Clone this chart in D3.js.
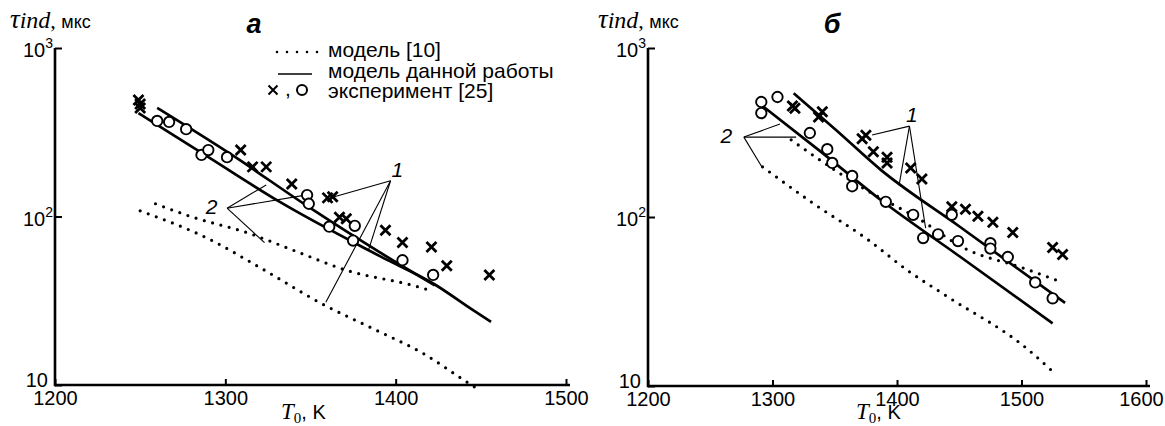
<!DOCTYPE html>
<html><head><meta charset="utf-8">
<script src="https://cdn.jsdelivr.net/npm/d3@7"></script>
<style>
body{margin:0;background:#fff}
svg{display:block;background:#fff}
text{font-family:"Liberation Sans",Arial,sans-serif;fill:#000}
</style></head><body>
<svg id="c" width="1165" height="426"></svg>
<script>
// ---------- tick values ----------
const xTicksA = [1200, 1300, 1400, 1500];
const xTicksB = [1200, 1300, 1400, 1500, 1600];
const yTicks = [10, 100, 1000];

// ---------- panel a data ----------
const aCrossT   = [1249, 1250, 1250, 1309, 1316, 1324, 1339, 1360, 1363, 1367, 1371, 1394, 1404, 1421, 1430, 1455];
const aCrossTau = [491, 465, 440, 248, 197, 197, 156, 129, 131, 99, 97, 83, 70, 66, 51, 45];
const aCircT    = [1260, 1267, 1277, 1286, 1290, 1301, 1348, 1349, 1361, 1376, 1375, 1404, 1422];
const aCircTau  = [369, 364, 330, 232, 248, 225, 134, 119, 87, 88, 72, 55, 45];
const aSolid1T   = [1260, 1303, 1350, 1391, 1423];
const aSolid1Tau = [441, 235, 112, 61, 39];
const aSolid2T   = [1249, 1291, 1332, 1391, 1423, 1445, 1456];
const aSolid2Tau = [411, 222, 122, 58, 39.5, 28, 23.7];
const aDot2T   = [1259, 1281, 1313, 1340, 1371, 1410, 1422];
const aDot2Tau = [119, 99, 80, 63, 48, 39, 36];
const aDot1T   = [1250, 1291, 1320, 1359, 1385, 1418, 1440, 1450];
const aDot1Tau = [108, 73, 50, 29.5, 22, 15, 10.7, 9.2];

// ---------- panel б data ----------
const bCrossT   = [1316, 1318, 1337, 1340, 1372, 1375, 1381, 1392, 1392, 1411, 1420, 1444, 1455, 1465, 1477, 1493, 1525, 1533];
const bCrossTau = [454, 440, 390, 420, 290, 305, 243, 226, 209, 195, 168, 115, 111, 101, 93, 81, 66, 60];
const bCircT    = [1291, 1304, 1291, 1330, 1344, 1348, 1364, 1364, 1391, 1413, 1421, 1433, 1444, 1449, 1475, 1475, 1489, 1511, 1525];
const bCircTau  = [479, 513, 412, 314, 252, 209, 175, 152, 123, 103, 75, 79, 103, 72, 70, 65, 58, 41, 33];
const bSolid1T   = [1317, 1351, 1387, 1451, 1535];
const bSolid1Tau = [540, 327, 190, 87, 31];
const bSolid2T   = [1292, 1339, 1387, 1451, 1525];
const bSolid2Tau = [454, 243, 126, 58, 23.5];
const bDot2T   = [1315, 1344, 1371, 1419, 1453, 1501, 1533];
const bDot2Tau = [286, 203, 151, 96, 66, 50, 41];
const bDot1T   = [1292, 1333, 1376, 1409, 1440, 1505, 1525];
const bDot1Tau = [198, 120, 74, 48, 34, 16.5, 12.2];

// ---------- annotation leaders (data units) ----------
const aNote2 = {label: "2", at: [1292, 114], from: [1301, 112], to: [[1324, 154], [1347, 134], [1323, 70]]};
const aNote1 = {label: "1", at: [1401, 189], from: [1397, 163], to: [[1364, 131], [1384, 63], [1359, 31]]};
const bNote2 = {label: "2", at: [1263, 301], from: [1277, 297], to: [[1306, 355], [1319, 297], [1292, 195]]};
const bNote1 = {label: "1", at: [1412, 402], from: [1410, 345], to: [[1380, 306], [1402, 159], [1423, 86]]};

const legendLabels = ["модель [10]", "модель данной работы", "эксперимент [25]"];

const svg = d3.select("#c");
const zip = (a, b) => a.map((v, i) => [v, b[i]]);
const SERIF = "Liberation Serif, Times New Roman, serif";

function drawPanel(p) {
  const g = svg.append("g");
  const x = d3.scaleLinear().domain(p.xDomain).range([p.left, p.right]);
  const y = d3.scaleLog().domain([10, 1000]).range([p.bottom, p.top]);

  // x axis
  const gx = g.append("g").attr("transform", `translate(0,${p.bottom})`)
    .call(d3.axisBottom(x).tickValues(p.xTicks).tickSizeInner(-6).tickSizeOuter(0).tickPadding(6).tickFormat(d3.format("d")));
  gx.attr("font-size", 20).attr("font-family", "Liberation Sans, Arial, sans-serif");
  gx.select(".domain").remove();
  gx.selectAll(".tick line").attr("stroke", "#000").attr("stroke-width", 2);
  gx.selectAll(".tick text").attr("fill", "#000")
    .attr("dx", d => (x(d) + 23 > 1164 ? 1164 - 23 - x(d) : 0));

  // y axis ticks
  const gy = g.append("g").attr("transform", `translate(${p.left},0)`)
    .call(d3.axisLeft(y).tickValues(yTicks).tickSizeInner(-7).tickSizeOuter(0).tickFormat(""));
  gy.select(".domain").remove();
  gy.selectAll(".tick line").attr("stroke", "#000").attr("stroke-width", 2);

  // axis lines
  g.append("line").attr("x1", p.left).attr("x2", p.right + 4).attr("y1", p.bottom).attr("y2", p.bottom)
    .attr("stroke", "#000").attr("stroke-width", 2.6);
  g.append("line").attr("x1", p.left).attr("x2", p.left).attr("y1", p.bottom + 1.3).attr("y2", y(1000))
    .attr("stroke", "#000").attr("stroke-width", 2.6);

  // y tick labels
  yTicks.forEach(v => {
    if (v === 10) {
      g.append("text").attr("x", p.left - 7).attr("y", y(v) + 2).attr("text-anchor", "end")
        .attr("font-size", 20).text("10");
    } else {
      const t = g.append("text").attr("x", p.left - 2).attr("y", y(v) + 9).attr("text-anchor", "end").attr("font-size", 20);
      t.append("tspan").text("10");
      t.append("tspan").attr("font-size", 14).attr("dy", -9).text(String(Math.round(Math.log10(v))));
    }
  });

  // y title
  const yt = g.append("text").attr("x", p.ytX).attr("y", 28);
  yt.append("tspan").attr("font-family", SERIF).attr("font-style", "italic").attr("font-size", 27).text("τ");
  yt.append("tspan").attr("font-family", SERIF).attr("font-style", "italic").attr("font-size", 24).text("ind");
  yt.append("tspan").attr("font-family", SERIF).attr("font-size", 22).text(", ");
  yt.append("tspan").attr("font-size", 18).text("мкс");

  // x title
  const xt = g.append("text").attr("x", p.xtX).attr("y", 419);
  xt.append("tspan").attr("font-family", SERIF).attr("font-style", "italic").attr("font-size", 23).text("T");
  xt.append("tspan").attr("font-family", SERIF).attr("font-size", 15).attr("dy", 4).text("0");
  xt.append("tspan").attr("font-size", 20).attr("dy", -4).text(", K");

  // panel letter
  g.append("text").attr("x", p.letterX).attr("y", 33).attr("text-anchor", "middle")
    .attr("font-family", SERIF).attr("font-style", "italic").attr("font-weight", "bold")
    .attr("font-size", 27).text(p.letter);

  const line = d3.line().x(d => x(d[0])).y(d => y(d[1])).curve(d3.curveMonotoneX);

  // dotted model [10]
  p.dotted.forEach(s => {
    g.append("path").attr("d", line(s)).attr("fill", "none").attr("stroke", "#000")
      .attr("stroke-width", 3.2).attr("stroke-linecap", "round").attr("stroke-dasharray", "0,8.6");
  });
  // solid model
  p.solid.forEach(s => {
    g.append("path").attr("d", line(s)).attr("fill", "none").attr("stroke", "#000").attr("stroke-width", 2.7);
  });

  // annotations
  p.notes.forEach(n => {
    n.to.forEach(e => {
      g.append("line").attr("x1", x(n.from[0])).attr("y1", y(n.from[1])).attr("x2", x(e[0])).attr("y2", y(e[1]))
        .attr("stroke", "#000").attr("stroke-width", 1.1);
    });
    g.append("text").attr("x", x(n.at[0])).attr("y", y(n.at[1]) + 7).attr("text-anchor", "middle")
      .attr("font-style", "italic").attr("font-size", 21).text(n.label);
  });

  // circles
  g.selectAll(null).data(p.circles).join("circle")
    .attr("cx", d => x(d[0])).attr("cy", d => y(d[1])).attr("r", 5.2)
    .attr("fill", "#fff").attr("stroke", "#000").attr("stroke-width", 1.9);
  // crosses
  g.selectAll(null).data(p.crosses).join("path")
    .attr("transform", d => `translate(${x(d[0])},${y(d[1])})`)
    .attr("d", "M-5,-5L5,5M-5,5L5,-5").attr("stroke", "#000").attr("stroke-width", 2.8).attr("fill", "none");
}

drawPanel({
  xDomain: [1200, 1500], left: 55, right: 566, top: 48, bottom: 385, xTicks: xTicksA,
  ytX: 10, xtX: 281, letter: "a", letterX: 254,
  dotted: [zip(aDot1T, aDot1Tau), zip(aDot2T, aDot2Tau)],
  solid: [zip(aSolid1T, aSolid1Tau), zip(aSolid2T, aSolid2Tau)],
  circles: zip(aCircT, aCircTau), crosses: zip(aCrossT, aCrossTau),
  notes: [aNote2, aNote1]
});
drawPanel({
  xDomain: [1200, 1600], left: 648, right: 1146, top: 48, bottom: 386, xTicks: xTicksB,
  ytX: 598, xtX: 856, letter: "б", letterX: 832,
  dotted: [zip(bDot1T, bDot1Tau), zip(bDot2T, bDot2Tau)],
  solid: [zip(bSolid1T, bSolid1Tau), zip(bSolid2T, bSolid2Tau)],
  circles: zip(bCircT, bCircTau), crosses: zip(bCrossT, bCrossTau),
  notes: [bNote2, bNote1]
});

// legend (panel a)
const lg = svg.append("g");
lg.append("line").attr("x1", 277).attr("x2", 318).attr("y1", 52).attr("y2", 52).attr("stroke", "#000")
  .attr("stroke-width", 2.6).attr("stroke-linecap", "round").attr("stroke-dasharray", "0,10");
lg.append("line").attr("x1", 278).attr("x2", 312).attr("y1", 74).attr("y2", 74).attr("stroke", "#000").attr("stroke-width", 1.5);
lg.append("path").attr("transform", "translate(273,90)").attr("d", "M-4.5,-4.5L4.5,4.5M-4.5,4.5L4.5,-4.5")
  .attr("stroke", "#000").attr("stroke-width", 2).attr("fill", "none");
lg.append("text").attr("x", 285).attr("y", 96).attr("font-size", 21).text(",");
lg.append("circle").attr("cx", 302).attr("cy", 90).attr("r", 5).attr("fill", "#fff").attr("stroke", "#000").attr("stroke-width", 2);
legendLabels.forEach((t, i) => {
  lg.append("text").attr("x", 328).attr("y", [57, 78, 98][i]).attr("font-size", 21).text(t);
});
</script>
</body></html>
